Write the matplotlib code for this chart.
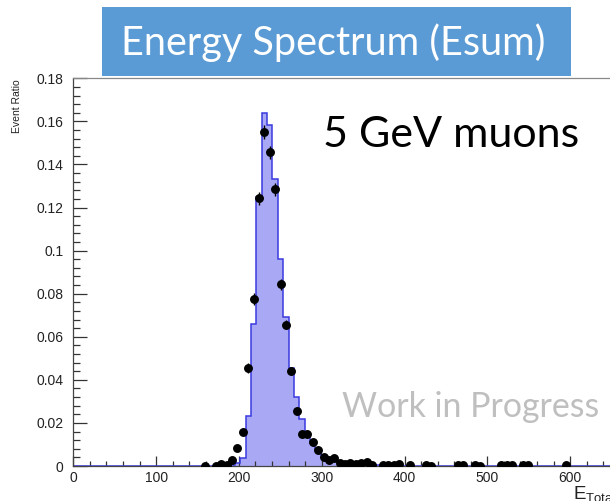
import numpy as np
import matplotlib
matplotlib.use("Agg")
import matplotlib.pyplot as plt
from matplotlib.patches import Rectangle
from matplotlib.ticker import MultipleLocator, FuncFormatter

# -----------------------------
# Data
# -----------------------------
bin_width = 6.5
n_bins = 100
first_bin = 28

# simulated spectrum, bins 28 .. 60 (everything else is empty)
hist_values = [0.0002, 0.0005, 0.0012, 0.0036, 0.0233, 0.0659, 0.1247, 0.1637,
               0.1583, 0.1332, 0.0960, 0.0690, 0.0455, 0.0322, 0.0216, 0.0150,
               0.0110, 0.0075, 0.0050, 0.0035, 0.0025, 0.0018, 0.0013, 0.0010,
               0.0008, 0.0006, 0.0005, 0.0004, 0.0003, 0.0003, 0.0002, 0.0002,
               0.0001]

# measured points (bin centres)
data_x = [159.25, 172.25, 178.75, 185.25, 191.75, 198.25, 204.75, 211.25,
          217.75, 224.25, 230.75, 237.25, 243.75, 250.25, 256.75, 263.25,
          269.75, 276.25, 282.75, 289.25, 295.75, 302.25, 308.75, 315.25,
          321.75, 328.25, 334.75, 341.25, 347.75, 354.25, 360.75, 373.75,
          380.25, 386.75, 393.25, 406.25, 425.75, 432.25, 464.75, 471.25,
          484.75, 491.25, 516.75, 523.25, 529.75, 542.75, 549.25, 594.75]
data_y = [0.0002, 0.0002, 0.0009, 0.0005, 0.0030, 0.0082, 0.0159, 0.0455,
          0.0775, 0.1243, 0.1549, 0.1456, 0.1285, 0.0843, 0.0655, 0.0440,
          0.0257, 0.0148, 0.0148, 0.0113, 0.0074, 0.0043, 0.0028, 0.0036,
          0.0012, 0.0009, 0.0015, 0.0009, 0.0012, 0.0017, 0.0005, 0.0006,
          0.0006, 0.0006, 0.0007, 0.0003, 0.0003, 0.0002, 0.0003, 0.0004,
          0.0004, 0.0002, 0.0003, 0.0004, 0.0004, 0.0004, 0.0003, 0.0004]
data_err = [0.0002, 0.0002, 0.0004, 0.0003, 0.0007, 0.0011, 0.0016, 0.0022,
            0.0026, 0.0030, 0.0033, 0.0032, 0.0030, 0.0024, 0.0021, 0.0018,
            0.0014, 0.0011, 0.0011, 0.0009, 0.0008, 0.0006, 0.0005, 0.0005,
            0.0003, 0.0003, 0.0003, 0.0003, 0.0003, 0.0003, 0.0002, 0.0002,
            0.0002, 0.0002, 0.0002, 0.0002, 0.0002, 0.0002, 0.0002, 0.0002,
            0.0002, 0.0002, 0.0002, 0.0002, 0.0002, 0.0002, 0.0002, 0.0002]

x_major = 100
x_minor = 20
y_major = 0.02
y_minor = 0.004

# -----------------------------
# Figure
# -----------------------------
W, H = 610, 501
fig = plt.figure(figsize=(W / 100, H / 100), dpi=100)
fig.patch.set_facecolor("white")

def fx(px):
    return px / W

def fy(py):
    return 1 - py / H

ax_left, ax_right, ax_top, ax_bottom = 73.3, 611.5, 78.3, 466.0
ax = fig.add_axes([fx(ax_left), fy(ax_bottom),
                   fx(ax_right - ax_left), (ax_bottom - ax_top) / H])

edges = np.arange(n_bins + 1) * bin_width
counts = np.zeros(n_bins)
counts[first_bin:first_bin + len(hist_values)] = hist_values

ax.stairs(counts, edges, fill=True, color="#a8a8f4", zorder=1)
ax.stairs(counts, edges, color="#3a3ae0", linewidth=1.1, zorder=2)

ax.errorbar(data_x, data_y, yerr=data_err, fmt="o", color="black",
            markersize=5.4, elinewidth=1, capsize=0, zorder=3)

ax.set_xlim(0, 650)
ax.set_ylim(0, 0.18)

ax.xaxis.set_major_locator(MultipleLocator(x_major))
ax.xaxis.set_minor_locator(MultipleLocator(x_minor))
ax.yaxis.set_major_locator(MultipleLocator(y_major))
ax.yaxis.set_minor_locator(MultipleLocator(y_minor))
ax.yaxis.set_major_formatter(FuncFormatter(lambda v, p: f"{v:g}"))
ax.xaxis.set_major_formatter(FuncFormatter(lambda v, p: f"{v:g}"))

ax.tick_params(axis="both", which="both", direction="in", color="#333333",
               labelcolor="#222222", labelsize=10)
ax.tick_params(axis="x", which="major", length=7.2, width=0.9, pad=3.5)
ax.tick_params(axis="x", which="minor", length=3.6, width=0.9)
ax.tick_params(axis="y", which="major", length=10, width=0.9, pad=7)
ax.tick_params(axis="y", which="minor", length=5, width=0.9)
for lab in ax.get_xticklabels() + ax.get_yticklabels():
    lab.set_family("Liberation Sans")

for s in ax.spines.values():
    s.set_color("#444444")
    s.set_linewidth(0.9)
ax.spines["top"].set_color("#888888")

# axis titles (ROOT style)
fig.text(fx(16.7), fy(79), "Event Ratio", rotation=90, ha="center", va="top",
         fontsize=7.5, family="Liberation Sans", color="#222222")
ax.text(656, -0.0085, r"$\mathregular{E_{Total}}$", ha="right", va="top",
        fontsize=13.5, family="Liberation Sans", color="#222222")

# title banner
fig.patches.append(Rectangle((fx(102.3), fy(76)), fx(571 - 102.3), (76 - 6.7) / H,
                             transform=fig.transFigure, facecolor="#5b9bd5",
                             edgecolor="none", zorder=5))
fig.text(fx(333.3), fy(55), "Energy Spectrum (Esum)", ha="center", va="baseline",
         fontsize=28.5, family="Lato", color="white", zorder=6)

fig.text(fx(323), fy(146.7), "5 GeV muons", ha="left", va="baseline",
         fontsize=31, family="Lato", color="black")
fig.text(fx(341.7), fy(416.7), "Work in Progress", ha="left", va="baseline",
         fontsize=24.4, family="Lato", color="#bfbfbf")

fig.savefig("out.png", dpi=100)
